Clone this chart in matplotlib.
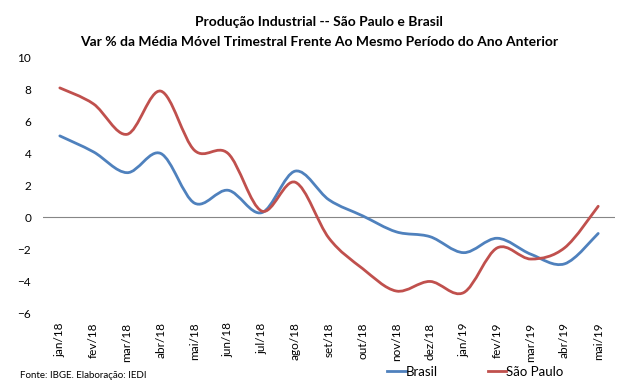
import numpy as np
import matplotlib.pyplot as plt
from matplotlib.path import Path
from matplotlib.patches import PathPatch
from matplotlib.lines import Line2D

plt.rcParams['font.family'] = ['Lato', 'DejaVu Sans']

meses = ['jan/18', 'fev/18', 'mar/18', 'abr/18', 'mai/18', 'jun/18', 'jul/18',
         'ago/18', 'set/18', 'out/18', 'nov/18', 'dez/18', 'jan/19', 'fev/19',
         'mar/19', 'abr/19', 'mai/19']
brasil = [5.1, 4.1, 2.8, 4.0, 0.9, 1.7, 0.3, 2.9, 1.1, 0.1, -0.9, -1.2,
          -2.2, -1.3, -2.3, -2.9, -1.0]
sao_paulo = [8.1, 7.1, 5.2, 7.9, 4.2, 4.0, 0.4, 2.2, -1.3, -3.2, -4.6, -4.0,
             -4.7, -1.9, -2.6, -1.9, 0.7]

COR_BR = '#4F81BD'
COR_SP = '#C0504D'


def linha_suave(ax, y, cor):
    """Linha suavizada (estilo Excel) com curvas de Bezier entre os pontos"""
    x = np.arange(len(y), dtype=float)
    y = np.asarray(y, dtype=float)
    pts = np.column_stack([x, y])
    n = len(pts)
    verts = [pts[0]]
    codes = [Path.MOVETO]
    for i in range(n - 1):
        p0 = pts[i - 1] if i > 0 else pts[i]
        p1 = pts[i]
        p2 = pts[i + 1]
        p3 = pts[i + 2] if i + 2 < n else pts[i + 1]
        c1 = p1 + (p2 - p0) / 6
        c2 = p2 - (p3 - p1) / 6
        verts += [c1, c2, p2]
        codes += [Path.CURVE4] * 3
    ax.add_patch(PathPatch(Path(verts, codes), fill=False, edgecolor=cor,
                           lw=2.0, capstyle='round', joinstyle='round'))


fig = plt.figure(figsize=(6.38, 3.86), dpi=100)
ax = fig.add_axes([0.0674, 0.188, 0.8966, 0.663])

linha_suave(ax, brasil, COR_BR)
linha_suave(ax, sao_paulo, COR_SP)

ax.axhline(0, color='#868686', lw=0.8, zorder=0)
ax.set_xlim(-0.5, len(meses) - 0.5)
ax.set_ylim(-6, 10)
ax.set_yticks(range(-6, 11, 2))
ax.set_xticks(range(len(meses)))
ax.set_xticklabels(meses, rotation=90)
ax.tick_params(axis='both', length=0, labelsize=8.5)
ax.tick_params(axis='y', pad=8.5)
ax.tick_params(axis='x', pad=6.5)
for s in ax.spines.values():
    s.set_visible(False)

fig.text(0.5, 0.943, 'Produção Industrial -- São Paulo e Brasil',
         ha='center', va='center', fontsize=10, fontweight='bold')
fig.text(0.5, 0.891, 'Var % da Média Móvel Trimestral Frente Ao Mesmo Período do Ano Anterior',
         ha='center', va='center', fontsize=10, fontweight='bold')
fig.text(0.031, 0.026, 'Fonte: IBGE. Elaboração: IEDI', ha='left', va='center',
         fontsize=7)

handles = [Line2D([], [], color=COR_BR, lw=2.0), Line2D([], [], color=COR_SP, lw=2.0)]
fig.legend(handles, ['Brasil', 'São Paulo'], loc='center', ncol=2,
           bbox_to_anchor=(0.745, 0.036), frameon=False, fontsize=9.5,
           handlelength=1.4, handletextpad=0.0, columnspacing=3.8)

fig.savefig('out.png', dpi=100)
